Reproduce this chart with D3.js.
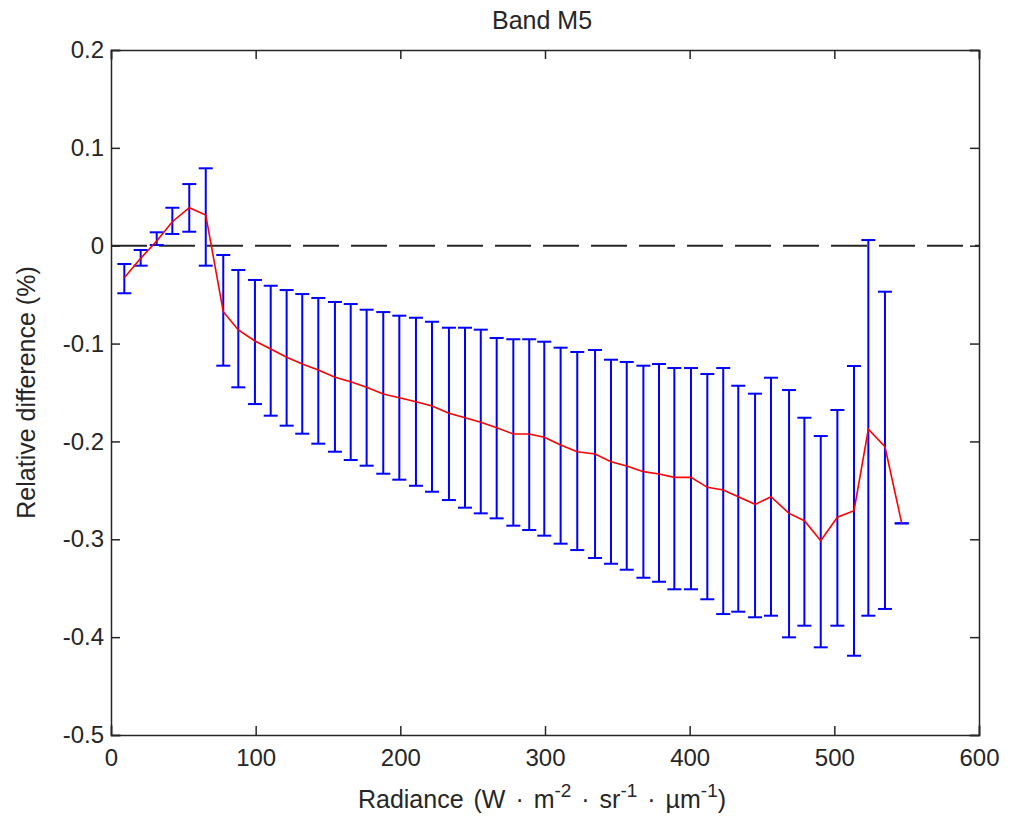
<!DOCTYPE html>
<html>
<head>
<meta charset="utf-8">
<script src="https://cdn.jsdelivr.net/npm/d3@7"></script>
<style>
  body { margin: 0; background: #fff; }
  text { font-family: "Liberation Sans", Arial, sans-serif; fill: #262626; }
</style>
</head>
<body>
<svg id="chart" width="1021" height="817"></svg>
<script>
const radiance = [9.2, 20.5, 31.6, 42.4, 54.1, 65.5, 77.6, 88.0, 99.5, 110.4,
  121.4, 132.2, 143.3, 154.8, 165.7, 176.7, 188.2, 199.3, 210.8, 221.9,
  233.6, 244.7, 255.6, 266.6, 278.1, 289.1, 299.5, 310.8, 322.3, 334.6,
  345.6, 356.5, 368.0, 378.8, 389.4, 400.9, 412.2, 423.2, 433.6, 445.2,
  456.2, 468.7, 479.3, 490.6, 502.1, 513.6, 523.5, 535.0, 546.6];
const meanDiff = [-0.0327, -0.0129, 0.0048, 0.0245, 0.0388, 0.0314, -0.0674, -0.0861, -0.0974, -0.1056,
  -0.1140, -0.1209, -0.1270, -0.1345, -0.1390, -0.1447, -0.1515, -0.1553, -0.1594, -0.1638,
  -0.1713, -0.1758, -0.1805, -0.1860, -0.1924, -0.1924, -0.1958, -0.2037, -0.2105, -0.2129,
  -0.2207, -0.2251, -0.2309, -0.2333, -0.2367, -0.2367, -0.2469, -0.2496, -0.2565, -0.2643,
  -0.2565, -0.2735, -0.2810, -0.3014, -0.2775, -0.2708, -0.1876, -0.2054, -0.2837];
const upperDiff = [-0.0187, -0.0044, 0.0137, 0.0388, 0.0630, 0.0791, -0.0095, -0.0248, -0.0350, -0.0409,
  -0.0453, -0.0494, -0.0534, -0.0575, -0.0596, -0.0654, -0.0678, -0.0715, -0.0736, -0.0777,
  -0.0838, -0.0838, -0.0858, -0.0943, -0.0956, -0.0956, -0.0981, -0.1042, -0.1086, -0.1066,
  -0.1165, -0.1188, -0.1226, -0.1209, -0.1250, -0.1250, -0.1311, -0.1250, -0.1431, -0.1512,
  -0.1349, -0.1475, -0.1758, -0.1945, -0.1679, -0.1229, 0.0058, -0.0470, -0.2837];
const lowerDiff = [-0.0486, -0.0204, 0.0007, 0.0120, 0.0143, -0.0204, -0.1226, -0.1447, -0.1618, -0.1737,
  -0.1839, -0.1921, -0.2023, -0.2105, -0.2190, -0.2248, -0.2330, -0.2391, -0.2453, -0.2514,
  -0.2599, -0.2677, -0.2735, -0.2786, -0.2861, -0.2905, -0.2963, -0.3045, -0.3110, -0.3191,
  -0.3250, -0.3311, -0.3393, -0.3434, -0.3511, -0.3511, -0.3613, -0.3764, -0.3740, -0.3797,
  -0.3781, -0.4002, -0.3883, -0.4104, -0.3883, -0.4190, -0.3781, -0.3712, -0.2837];
const xTicks = [0, 100, 200, 300, 400, 500, 600];
const yTicks = [0.2, 0.1, 0, -0.1, -0.2, -0.3, -0.4, -0.5];
const yTickLabels = ["0.2", "0.1", "0", "-0.1", "-0.2", "-0.3", "-0.4", "-0.5"];
const titleText = "Band M5";
const yLabelText = "Relative difference (%)";

const svg = d3.select("#chart");
const L = 111, R = 979, T = 50, B = 735;
const x = d3.scaleLinear().domain([0, 600]).range([L, R]);
const y = d3.scaleLinear().domain([-0.5, 0.2]).range([B, T]);
const axisColor = "#262626";
const fontSize = 24;
const labelSize = 25;
const tickLen = 9;

svg.append("rect").attr("width", 1021).attr("height", 817).attr("fill", "#fff");

// zero dashed line
svg.append("line")
  .attr("x1", x(0)).attr("x2", x(600))
  .attr("y1", y(0)).attr("y2", y(0))
  .attr("stroke", axisColor).attr("stroke-width", 2)
  .attr("stroke-dasharray", "36,12");

// error bars
const data = radiance.map((r, i) => ({ r, m: meanDiff[i], u: upperDiff[i], l: lowerDiff[i] }));
const cap = 7;
const eb = svg.append("g").attr("stroke", "#0000ff").attr("stroke-width", 2).attr("fill", "none");
data.forEach(d => {
  eb.append("line").attr("x1", x(d.r)).attr("x2", x(d.r)).attr("y1", y(d.u)).attr("y2", y(d.l));
  eb.append("line").attr("x1", x(d.r) - cap).attr("x2", x(d.r) + cap).attr("y1", y(d.u)).attr("y2", y(d.u));
  eb.append("line").attr("x1", x(d.r) - cap).attr("x2", x(d.r) + cap).attr("y1", y(d.l)).attr("y2", y(d.l));
});

// mean line
svg.append("path")
  .datum(data)
  .attr("fill", "none").attr("stroke", "#ff0000").attr("stroke-width", 1.6)
  .attr("d", d3.line().x(d => x(d.r)).y(d => y(d.m)));

// axes box with inward ticks
const axB = d3.axisBottom(x).tickValues(xTicks).tickSize(-tickLen).tickPadding(14).tickFormat(d3.format("d"));
const axT = d3.axisTop(x).tickValues(xTicks).tickSize(-tickLen).tickFormat("");
const axLft = d3.axisLeft(y).tickValues(yTicks).tickSize(-tickLen).tickPadding(7).tickFormat((d, i) => yTickLabels[i]);
const axRt = d3.axisRight(y).tickValues(yTicks).tickSize(-tickLen).tickFormat("");

function styleAxis(g) {
  g.selectAll("path").attr("stroke", axisColor).attr("stroke-width", 1.5);
  g.selectAll("line").attr("stroke", axisColor).attr("stroke-width", 1.5);
  g.selectAll("text").attr("font-size", fontSize).attr("fill", axisColor)
    .style("font-family", '"Liberation Sans", Arial, sans-serif');
}
svg.append("g").attr("transform", `translate(0,${B})`).call(axB).call(styleAxis);
svg.append("g").attr("transform", `translate(0,${T})`).call(axT).call(styleAxis);
svg.append("g").attr("transform", `translate(${L},0)`).call(axLft).call(styleAxis);
svg.append("g").attr("transform", `translate(${R},0)`).call(axRt).call(styleAxis);
svg.selectAll(".domain").attr("stroke-linecap", "square");

// title
svg.append("text").attr("x", 542).attr("y", 29)
  .attr("text-anchor", "middle").attr("font-size", labelSize).text(titleText);

// x label with superscripts
const xl = svg.append("text").attr("x", 542).attr("y", 808)
  .attr("text-anchor", "middle").attr("font-size", labelSize)
  .attr("word-spacing", 3);
xl.append("tspan").text("Radiance (W \u00B7 m");
xl.append("tspan").attr("font-size", 19).attr("dy", -11).text("-2");
xl.append("tspan").attr("dy", 11).text(" \u00B7 sr");
xl.append("tspan").attr("font-size", 19).attr("dy", -11).text("-1");
xl.append("tspan").attr("dy", 11).text(" \u00B7 \u00B5m");
xl.append("tspan").attr("font-size", 19).attr("dy", -11).text("-1");
xl.append("tspan").attr("dy", 11).text(")");

// y label
svg.append("text")
  .attr("transform", `translate(35,${(T + B) / 2}) rotate(-90)`)
  .attr("text-anchor", "middle").attr("font-size", labelSize).text(yLabelText);
</script>
</body>
</html>
